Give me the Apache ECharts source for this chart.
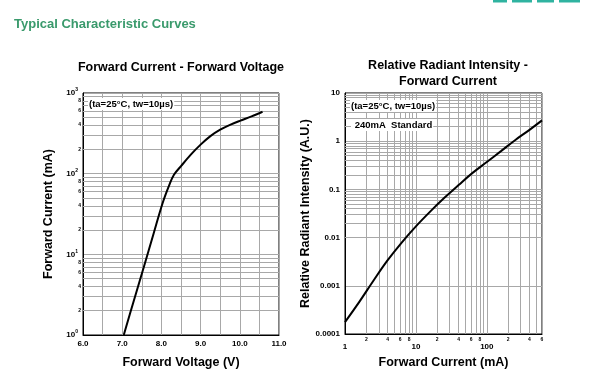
<!DOCTYPE html>
<html><head><meta charset="utf-8">
<script src="https://cdn.jsdelivr.net/npm/echarts@6/dist/echarts.min.js"></script>
<style>html,body{margin:0;padding:0;background:#fff}#c{width:605px;height:388px}</style>
</head><body><div id="c"></div>
<script>
// ---- Data ----
const vfVoltage = [7.04, 7.3, 7.55, 7.8, 8.03, 8.2, 8.32, 8.5, 8.75, 9.0, 9.25, 9.5, 9.75, 10.0, 10.3, 10.58];
const vfCurrent = [1, 2.7, 6.9, 18, 43, 72, 97, 124, 172, 229, 292, 351, 403, 452, 513, 585];
const riCurrent = [1, 1.6, 2.5, 4, 6.3, 10, 16, 25, 40, 63, 100, 160, 250, 400, 600];
const riIntensity = [0.000177, 0.00047, 0.00126, 0.0034, 0.0079, 0.0171, 0.035, 0.066, 0.123, 0.22, 0.37, 0.63, 1.05, 1.72, 2.7];
const leftMinorY = [2,3,4,5,6,7,8,9,20,30,40,50,60,70,80,90,200,300,400,500,600,700,800,900];
const leftMinorYLabels = [2,4,6,8,20,40,60,80,200,400,600,800];
const rightMinorY = [];
[0.0001,0.001,0.01,0.1,1].forEach(d=>{for(let k=2;k<=9;k++) rightMinorY.push(+(d*k).toPrecision(2));});
const rightMinorX = [2,3,4,5,6,7,8,9,20,30,40,50,60,70,80,90,200,300,400,500,600];
const rightMinorXLabels = [2,4,6,8,20,40,60,80,200,400,600];

const FONT = 'Liberation Sans';
const GRID = '#a8a8a8';
const tickLbl = {fontFamily: FONT, fontWeight: 'bold', fontSize: 8, color: '#000'};

function firstDigit(v){ return String(Math.round(v / Math.pow(10, Math.floor(Math.log10(v)+1e-9)))); }
const smallLbl = {fontSize: 5, fontWeight: 'bold', fontFamily: FONT, color: '#000'};

const leftYLines = leftMinorY.map(v => ({
  yAxis: v,
  label: leftMinorYLabels.includes(v) ? Object.assign({show: true, position: 'start', distance: 2, formatter: firstDigit(v)}, smallLbl) : {show: false}
}));
const rightYLines = rightMinorY.map(v => ({yAxis: v, label: {show: false}}));
const rightXLines = rightMinorX.map(v => ({
  xAxis: v,
  label: rightMinorXLabels.includes(v) ? Object.assign({show: true, position: 'start', distance: 3, formatter: firstDigit(v)}, smallLbl) : {show: false}
}));

const chart = echarts.init(document.getElementById('c'), null, {renderer: 'canvas'});
chart.setOption({
  backgroundColor: '#fff',
  animation: false,
  title: [
    {text: 'Typical Characteristic Curves', left: 9, top: 13, textStyle: {fontFamily: FONT, fontWeight: 'bold', fontSize: 13, color: '#3a9a6c'}},
    {text: 'Forward Current - Forward Voltage', left: 176, top: 56, textAlign: 'center', textStyle: {fontFamily: FONT, fontWeight: 'bold', fontSize: 12.5, color: '#000'}},
    {text: 'Relative Radiant Intensity -\nForward Current', left: 443, top: 53, textAlign: 'center', textStyle: {fontFamily: FONT, fontWeight: 'bold', fontSize: 12.5, lineHeight: 15.5, color: '#000'}}
  ],
  grid: [
    {left: 83, top: 93, width: 196, height: 242, show: true, borderColor: '#000', borderWidth: 1, backgroundColor: 'transparent'},
    {left: 345, top: 93, width: 197, height: 241, show: true, borderColor: '#000', borderWidth: 1, backgroundColor: 'transparent'}
  ],
  xAxis: [
    {gridIndex: 0, type: 'value', min: 6, max: 11, interval: 0.5,
     name: 'Forward Voltage (V)', nameLocation: 'middle', nameGap: 21,
     nameTextStyle: {fontFamily: FONT, fontWeight: 'bold', fontSize: 12.5, color: '#000'},
     axisLine: {show: true, lineStyle: {color: '#000'}}, axisTick: {show: false},
     axisLabel: Object.assign({margin: 5, formatter: v => (Math.abs(v % 1) < 1e-9 ? v.toFixed(1) : '')}, tickLbl),
     splitLine: {show: true, lineStyle: {color: GRID, width: 1}}},
    {gridIndex: 1, type: 'log', logBase: 10, min: 1, max: 600,
     name: 'Forward Current (mA)', nameLocation: 'middle', nameGap: 22,
     nameTextStyle: {fontFamily: FONT, fontWeight: 'bold', fontSize: 12.5, color: '#000'},
     axisLine: {show: true, lineStyle: {color: '#000'}}, axisTick: {show: false},
     axisLabel: Object.assign({margin: 9, showMaxLabel: false, formatter: v => String(Math.round(v))}, tickLbl),
     splitLine: {show: true, lineStyle: {color: GRID, width: 1}}}
  ],
  yAxis: [
    {gridIndex: 0, type: 'log', logBase: 10, min: 1, max: 1000,
     name: 'Forward Current (mA)', nameLocation: 'middle', nameGap: 28, nameRotate: 90,
     nameTextStyle: {fontFamily: FONT, fontWeight: 'bold', fontSize: 12.5, color: '#000'},
     axisLine: {show: true, lineStyle: {color: '#000'}}, axisTick: {show: false},
     axisLabel: {margin: 5, formatter: v => '{b|10}{s|' + Math.round(Math.log10(v)) + '}',
       rich: {b: {fontFamily: FONT, fontWeight: 'bold', fontSize: 8, color: '#000'},
              s: {fontFamily: FONT, fontWeight: 'bold', fontSize: 5, color: '#000', padding: [0, 0, 6, 0]}}},
     splitLine: {show: true, lineStyle: {color: GRID, width: 1}}},
    {gridIndex: 1, type: 'log', logBase: 10, min: 0.0001, max: 10,
     name: 'Relative Radiant Intensity (A.U.)', nameLocation: 'middle', nameGap: 32, nameRotate: 90,
     nameTextStyle: {fontFamily: FONT, fontWeight: 'bold', fontSize: 12.5, color: '#000'},
     axisLine: {show: true, lineStyle: {color: '#000'}}, axisTick: {show: false},
     axisLabel: Object.assign({margin: 5, formatter: v => String(+v.toPrecision(1))}, tickLbl),
     splitLine: {show: true, lineStyle: {color: GRID, width: 1}}}
  ],
  series: [
    {type: 'line', xAxisIndex: 0, yAxisIndex: 0, data: [], z: 1, silent: true,
     markLine: {silent: true, symbol: 'none', animation: false, lineStyle: {color: GRID, width: 1, type: 'solid'}, data: leftYLines}},
    {type: 'line', xAxisIndex: 1, yAxisIndex: 1, data: [], z: 1, silent: true,
     markLine: {silent: true, symbol: 'none', animation: false, lineStyle: {color: GRID, width: 1, type: 'solid'}, data: rightYLines.concat(rightXLines)}},
    {type: 'line', xAxisIndex: 0, yAxisIndex: 0, z: 5, smooth: 0.35, symbol: 'none',
     lineStyle: {color: '#000', width: 2}, data: vfVoltage.map((v, i) => [v, vfCurrent[i]])},
    {type: 'line', xAxisIndex: 1, yAxisIndex: 1, z: 5, smooth: 0.4, symbol: 'none',
     lineStyle: {color: '#000', width: 2}, data: riCurrent.map((v, i) => [v, riIntensity[i]])}
  ],
  graphic: [
    {type: 'text', left: 88, top: 98, z: 10, style: {text: '(ta=25°C, tw=10µs)', font: 'bold 9.5px "Liberation Sans"', fill: '#000', backgroundColor: '#fff', padding: [1, 1]}},
    {type: 'text', left: 350, top: 100, z: 10, style: {text: '(ta=25°C, tw=10µs)', font: 'bold 9.5px "Liberation Sans"', fill: '#000', backgroundColor: '#fff', padding: [1, 1]}},
    {type: 'text', left: 351, top: 119, z: 10, style: {text: ' 240mA  Standard', font: 'bold 9.5px "Liberation Sans"', fill: '#000', backgroundColor: '#fff', padding: [1, 1]}},
    {type: 'rect', shape: {x: 493, y: 0, width: 14, height: 2.5}, style: {fill: '#2fb3a0'}},
    {type: 'rect', shape: {x: 512, y: 0, width: 20, height: 2.5}, style: {fill: '#2fb3a0'}},
    {type: 'rect', shape: {x: 537, y: 0, width: 17, height: 2.5}, style: {fill: '#2fb3a0'}},
    {type: 'rect', shape: {x: 559, y: 0, width: 21, height: 2.5}, style: {fill: '#2fb3a0'}}
  ]
});
</script></body></html>
